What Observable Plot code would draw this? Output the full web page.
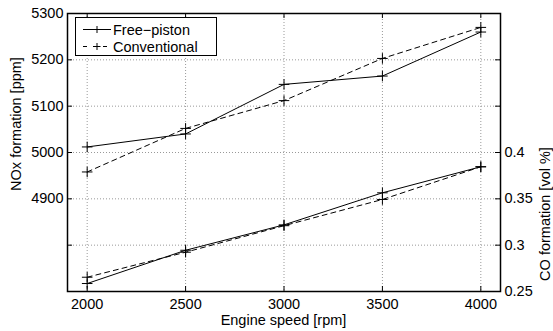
<!DOCTYPE html>
<html><head><meta charset="utf-8">
<script src="https://cdn.jsdelivr.net/npm/d3@7"></script>
<script src="https://cdn.jsdelivr.net/npm/@observablehq/plot@0.6"></script>
<style>
body{margin:0;background:#fff;}
#wrap{position:relative;width:553px;height:331px;font-family:"Liberation Sans",Arial,sans-serif;}
#legend{position:absolute;left:75px;top:17px;width:142px;height:39px;border:1px solid #000;background:#fff;box-sizing:border-box;}
#legend svg{position:absolute;left:0;top:0;}
.lab{position:absolute;white-space:nowrap;font-size:14.5px;line-height:1;color:#000;transform:translate(-50%,-50%);}
.lab.rot{transform:translate(-50%,-50%) rotate(-90deg);}
</style></head><body><div id="wrap"></div>
<script>
const speeds = [2000, 2500, 3000, 3500, 4000];
const noxFree = [5012, 5040, 5147, 5165, 5260];
const noxConv = [4958, 5052, 5112, 5203, 5270];
const coFree = [0.2586, 0.2945, 0.3219, 0.3565, 0.3846];
const coConv = [0.2654, 0.2924, 0.3210, 0.3493, 0.3846];
const xTicks = [2000, 2500, 3000, 3500, 4000];
const noxTicks = [4900, 5000, 5100, 5200, 5300];
const noxGrid = [4800, 4900, 5000, 5100, 5200];
const coTicks = [0.25, 0.3, 0.35, 0.4];
const coTickLabels = ["0.25", "0.3", "0.35", "0.4"];
const seriesNames = ["Free\u2212piston", "Conventional"];
const xLabel = "Engine speed [rpm]";
const yLeftLabel = "NOx formation [ppm]";
const yRightLabel = "CO formation [vol %]";

// left axis domain and mapping of the right (CO) axis onto it
const noxDomain = [4700, 5300];
const coDomain = [0.25, 0.55];
const coToNox = c => noxDomain[0] + (c - coDomain[0]) / (coDomain[1] - coDomain[0]) * (noxDomain[1] - noxDomain[0]);

const W = 553, H = 331, mL = 67, mR = 53, mT = 13, mB = 40;
const innerH = H - mT - mB, innerW = W - mL - mR;

const rows = (ys, name) => speeds.map((s, i) => ({speed: s, value: ys[i], series: name}));
const noxFreeRows = rows(noxFree, seriesNames[0]);
const noxConvRows = rows(noxConv, seriesNames[1]);
const coFreeRows = rows(coFree.map(coToNox), seriesNames[0]);
const coConvRows = rows(coConv.map(coToNox), seriesNames[1]);

const coTickPos = coTicks.map(coToNox);
const coLabelMap = new Map(coTickPos.map((p, i) => [p, coTickLabels[i]]));
const sideTicks = Array.from(new Set([...noxTicks, ...noxGrid, ...coTickPos]));

const gridStyle = {stroke: "#999", strokeOpacity: 1, strokeDasharray: "1,2", strokeWidth: 1};
const dash = "5,4";
const fontFamily = '"Liberation Sans", Arial, sans-serif';

const plot = Plot.plot({
  width: W, height: H,
  marginLeft: mL, marginRight: mR, marginTop: mT, marginBottom: mB,
  style: {fontFamily, fontSize: "14.5px", color: "#000", background: "#fff"},
  x: {domain: [1900, 4100]},
  y: {domain: noxDomain},
  marks: [
    Plot.ruleX(xTicks, {x: d => d, ...gridStyle}),
    Plot.ruleY(noxGrid, {y: d => d, ...gridStyle}),
    Plot.line(noxFreeRows, {x: "speed", y: "value", stroke: "#000", strokeWidth: 1}),
    Plot.line(noxConvRows, {x: "speed", y: "value", stroke: "#000", strokeWidth: 1, strokeDasharray: dash}),
    Plot.line(coFreeRows, {x: "speed", y: "value", stroke: "#000", strokeWidth: 1}),
    Plot.line(coConvRows, {x: "speed", y: "value", stroke: "#000", strokeWidth: 1, strokeDasharray: dash}),
    Plot.dot([...noxFreeRows, ...noxConvRows, ...coFreeRows, ...coConvRows], {x: "speed", y: "value", symbol: "plus", r: 3.5, stroke: "#000", strokeWidth: 1}),
    // inward ticks
    Plot.tickX(xTicks, {x: d => d, insetTop: innerH - 5, stroke: "#000"}),
    Plot.tickX(xTicks, {x: d => d, insetBottom: innerH - 5, stroke: "#000"}),
    Plot.tickY(sideTicks, {y: d => d, insetRight: innerW - 5, stroke: "#000"}),
    Plot.tickY(sideTicks, {y: d => d, insetLeft: innerW - 5, stroke: "#000"}),
    Plot.frame({stroke: "#000", strokeWidth: 1.5}),
    Plot.axisX(xTicks, {anchor: "bottom", tickSize: 0, tickPadding: 7, tickFormat: d => String(d), label: null, fontSize: 14.5}),
    Plot.axisY(noxTicks, {anchor: "left", tickSize: 0, tickPadding: 4, tickFormat: d => String(d), label: null, fontSize: 14.5}),
    Plot.axisY(coTickPos, {anchor: "right", tickSize: 0, tickPadding: 4, tickFormat: d => coLabelMap.get(d), label: null, fontSize: 14.5})
  ]
});

const wrap = document.getElementById("wrap");
wrap.appendChild(plot);

// axis titles
function addLabel(text, cx, cy, rot) {
  const d = document.createElement("div");
  d.className = "lab" + (rot ? " rot" : "");
  d.style.left = cx + "px";
  d.style.top = cy + "px";
  d.textContent = text;
  wrap.appendChild(d);
}
addLabel(xLabel, (mL + W - mR) / 2, 319.5, false);
addLabel(yLeftLabel, 16, 124, true);
addLabel(yRightLabel, 545, 214, true);

// legend inside the axes
const legend = document.createElement("div");
legend.id = "legend";
const lw = 142, lh = 39;
const rowsY = [11.5, 28.5];
let svg = `<svg width="${lw}" height="${lh}" xmlns="http://www.w3.org/2000/svg">`;
seriesNames.forEach((name, i) => {
  const y = rowsY[i];
  svg += `<line x1="7" x2="35" y1="${y}" y2="${y}" stroke="#000" stroke-width="1" ${i === 1 ? `stroke-dasharray="4,6"` : ""}/>`;
  svg += `<path d="M17.5,${y}h7M21,${y - 3.5}v7" stroke="#000" stroke-width="1" fill="none"/>`;
  svg += `<text x="37" y="${y}" dy="0.36em" font-size="14.5" font-family='${fontFamily}'>${name}</text>`;
});
svg += `</svg>`;
legend.innerHTML = svg;
wrap.appendChild(legend);
</script>
</body></html>
